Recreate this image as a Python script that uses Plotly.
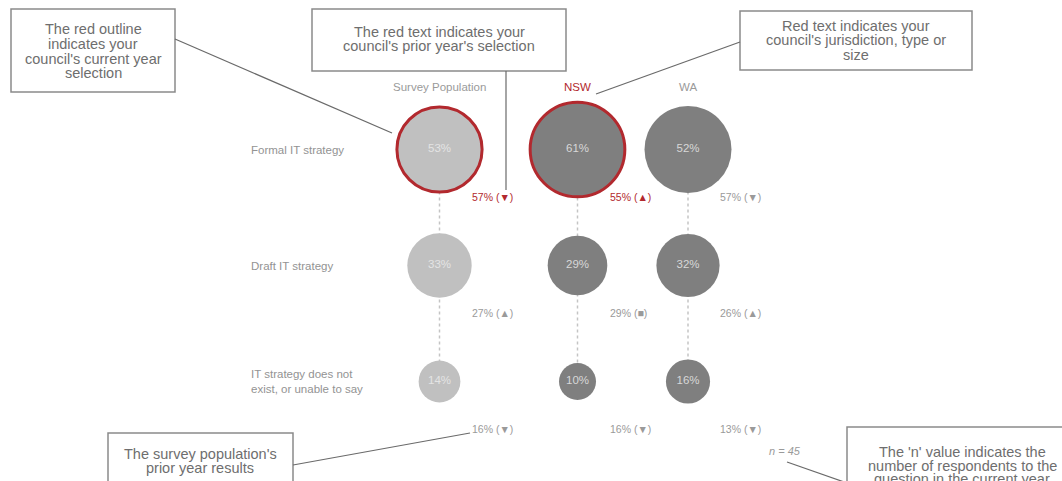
import plotly.graph_objects as go

# ---------------- data ----------------
columns = ["Survey Population", "NSW", "WA"]
rows = ["Formal IT strategy", "Draft IT strategy", "IT strategy does not<br>exist, or unable to say"]
current_survey = [53, 33, 14]
current_nsw = [61, 29, 10]
current_wa = [52, 32, 16]
prior_survey = [57, 27, 16]
prior_nsw = [55, 29, 16]
prior_wa = [57, 26, 13]
trend_survey = ["▼", "▲", "▼"]
trend_nsw = ["▲", "■", "▼"]
trend_wa = ["▼", "▲", "▼"]
council_row = "Formal IT strategy"       # council's current-year selection
council_prior_row = "Formal IT strategy"  # council's prior-year selection
council_group = "NSW"                    # council's jurisdiction
n_value = 45

# ---------------- styles ----------------
W, H = 1062, 481
RED = "#b2292e"
LIGHT = "#c0c0c0"
DARK = "#7f7f7f"
FONT = "Liberation Sans, Arial, sans-serif"

def px(x):
    return x / W

def py(y):
    return 1 - y / H

def size_of(v):
    return 2 * (12.55 + 0.595 * v)

fig = go.Figure()

groups = [
    ("Survey Population", current_survey, prior_survey, trend_survey, "x", "y", LIGHT, "#e4e4e4"),
    ("NSW", current_nsw, prior_nsw, trend_nsw, "x2", "y", DARK, "#d8d8d8"),
    ("WA", current_wa, prior_wa, trend_wa, "x2", "y", DARK, "#d8d8d8"),
]

annotations = []
for name, cur, pri, tr, xa, ya, fill, tcol in groups:
    # dotted connector
    fig.add_trace(go.Scatter(
        x=[name] * len(rows), y=rows, mode="lines", xaxis=xa, yaxis=ya,
        line=dict(color="#c4c4c4", width=1.5, dash="dot"),
        hoverinfo="skip", showlegend=False))
    highlight = name in ("Survey Population", council_group)
    lw = [3 if (highlight and r == council_row) else 0 for r in rows]
    fig.add_trace(go.Scatter(
        x=[name] * len(rows), y=rows, mode="markers+text", xaxis=xa, yaxis=ya,
        text=[f"{v}%" for v in cur], textposition="middle center",
        textfont=dict(family=FONT, size=11.5, color=tcol),
        marker=dict(size=[size_of(v) - w for v, w in zip(cur, lw)], color=fill, opacity=1,
                    line=dict(color=RED, width=lw)),
        hoverinfo="skip", showlegend=False))
    for r, p, t in zip(rows, pri, tr):
        red = highlight and r == council_prior_row
        annotations.append(dict(
            x=name, y=r, xref=xa, yref=ya, text=f"{p}% ({t})", showarrow=False,
            xanchor="left", yanchor="middle", xshift=30, yshift=-47,
            font=dict(family=FONT, size=10.5, color=RED if red else "#9a9a9a")))
    annotations.append(dict(
        x=name, y=py(87), xref=xa, yref="paper", text=name, showarrow=False,
        xanchor="center", yanchor="middle",
        font=dict(family=FONT, size=11.5, color=RED if name == council_group else "#9a9a9a")))

for r in rows:
    annotations.append(dict(
        x=px(249), y=r, xref="paper", yref="y", text=r, showarrow=False,
        xanchor="left", yanchor="middle", align="left",
        font=dict(family=FONT, size=11.5, color="#939393")))

annotations.append(dict(
    x=px(785), y=py(451), xref="paper", yref="paper", text=f"<i>n = {n_value}</i>",
    showarrow=False, xanchor="center", yanchor="middle",
    font=dict(family=FONT, size=11, color="#9a9a9a")))

# ---------------- callouts ----------------
callouts = [
    # (box x0, y0, x1, y1, text lines, line y positions, text center x, connector)
    (11, 9, 175, 92, ["The red outline", "indicates your", "council's current year", "selection"],
     [29, 44, 59, 73], 93, [(175, 39), (392, 133)]),
    (312, 9, 566, 71, ["The red text indicates your", "council's prior year's selection"],
     [32, 46], 439, [(506, 71), (506, 190)]),
    (740, 11, 972, 70, ["Red text indicates your", "council's jurisdiction, type or", "size"],
     [25.5, 40, 55], 856, [(740, 42), (596, 94)]),
    (108, 433, 293, 500, ["The survey population's", "prior year results"],
     [453.5, 468], 200, [(293, 465), (470, 433)]),
    (847, 427, 1075, 500, ["The 'n' value indicates the", "number of respondents to the", "question in the current year"],
     [452, 465.6, 479], 962, [(787, 462), (847, 483)]),
]

shapes = []
for x0, y0, x1, y1, lines, ys, cx, conn in callouts:
    shapes.append(dict(type="rect", xref="paper", yref="paper",
                       x0=px(x0), x1=px(x1), y0=py(y0), y1=py(y1),
                       line=dict(color="#8a8a8a", width=1.5), fillcolor="white", layer="above"))
    (ax, ay), (bx, by) = conn
    shapes.append(dict(type="line", xref="paper", yref="paper",
                       x0=px(ax), y0=py(ay), x1=px(bx), y1=py(by),
                       line=dict(color="#6a6a6a", width=1.2), layer="above"))
    for t, yy in zip(lines, ys):
        annotations.append(dict(
            x=px(cx), y=py(yy), xref="paper", yref="paper", text=t, showarrow=False,
            xanchor="center", yanchor="middle",
            font=dict(family=FONT, size=14.5, color="#6e6e6e")))

axis_hidden = dict(showgrid=False, zeroline=False, showticklabels=False, showline=False, ticks="")

fig.update_layout(
    width=W, height=H,
    margin=dict(l=0, r=0, t=0, b=0),
    paper_bgcolor="white", plot_bgcolor="white",
    xaxis=dict(domain=[px(384.25), px(494.75)], type="category",
               categoryarray=["Survey Population"], range=[-0.5, 0.5], **axis_hidden),
    xaxis2=dict(domain=[px(522.25), px(743.25)], type="category", anchor="y",
                categoryarray=["NSW", "WA"], range=[-0.5, 1.5], **axis_hidden),
    yaxis=dict(domain=[py(439.5), py(91.5)], type="category",
               categoryarray=rows, range=[2.5, -0.5], **axis_hidden),
    shapes=shapes,
    annotations=annotations,
    showlegend=False,
)

fig.write_html("out.html", config={"displayModeBar": False},
               post_script="document.body.style.margin='0';document.body.style.overflow='hidden';")
